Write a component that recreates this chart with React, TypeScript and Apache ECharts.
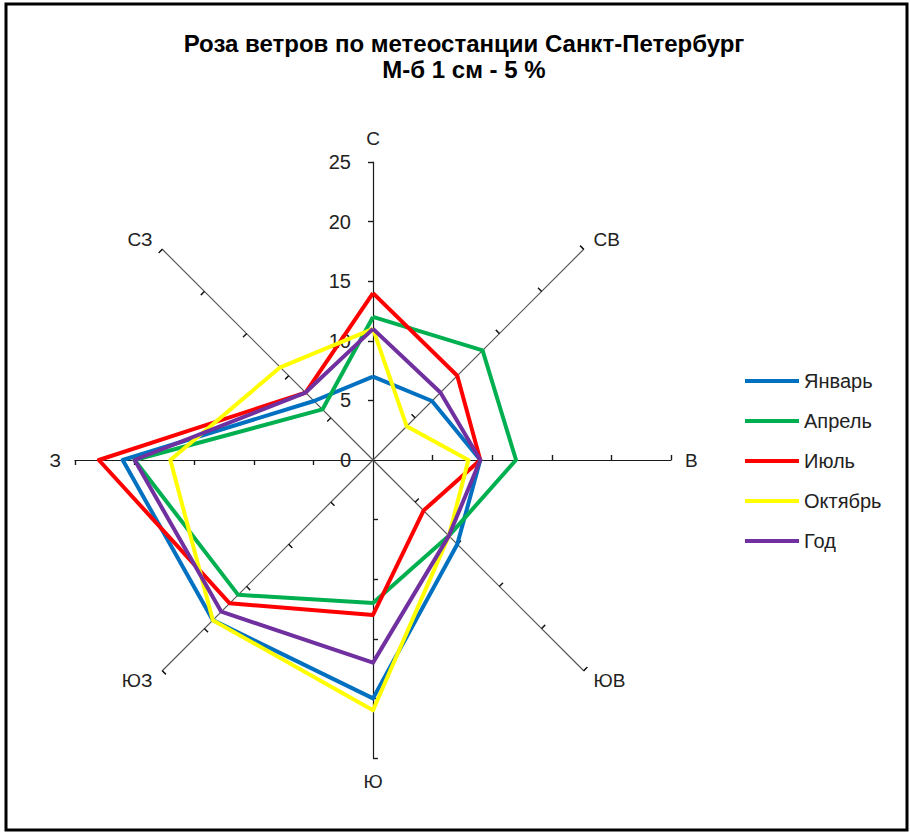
import React, { useEffect, useRef } from "react";
import * as echarts from "echarts";

// Compass directions (clockwise from north)
const directions = ["С", "СВ", "В", "ЮВ", "Ю", "ЮЗ", "З", "СЗ"];
// ECharts radar lays indicators counter-clockwise; this is the drawing order
const drawOrder = [0, 7, 6, 5, 4, 3, 2, 1];

const seriesNames = ["Январь", "Апрель", "Июль", "Октябрь", "Год"];
const january = [7, 7, 9, 10, 20, 19, 21, 7];
const april = [12, 13, 12, 9, 12, 16, 20, 6];
const july = [14, 10, 9, 6, 13, 17, 23, 8];
const october = [11, 4, 8, 9, 21, 19, 17, 11];
const year = [11, 8, 9, 9, 17, 18, 20, 8];
const seriesValues = [january, april, july, october, year];
const seriesColors = ["#0070C0", "#00B050", "#FF0000", "#FFFF00", "#7030A0"];

const axisMax = 25;
const tickValues = [5, 10, 15, 20, 25];

const titleLine1 = "Роза ветров по метеостанции Санкт-Петербург";
const titleLine2 = "М-б 1 см - 5 %";

const FONT = "'Liberation Sans', Arial, sans-serif";

export default function App() {
  const ref = useRef<HTMLDivElement>(null);

  useEffect(() => {
    if (!ref.current) return;
    const chart = echarts.init(ref.current, null, { renderer: "svg" });

    const isMain = (d: string) => d.length === 1;

    const indicators = drawOrder.map((i) => ({
      name: directions[i],
      min: 0,
      max: axisMax,
      axisLine: {
        lineStyle: { color: isMain(directions[i]) ? "#1a1a1a" : "#555555", width: 1.2 },
      },
      axisLabel: { show: i === 0 },
    }));

    const indicatorsInner = drawOrder.map((i) => ({
      name: directions[i],
      min: 0,
      max: axisMax,
      axisLabel: { show: false },
    }));

    const center = [373, 460];
    const radius = 298;

    const option: any = {
      animation: false,
      backgroundColor: "#ffffff",
      title: {
        text: titleLine1 + "\n" + titleLine2,
        left: 459,
        top: 25,
        textAlign: "center",
        textStyle: {
          fontFamily: FONT,
          fontWeight: "bold",
          fontSize: 24,
          lineHeight: 26,
          color: "#000",
        },
      },
      legend: {
        orient: "vertical",
        left: 740,
        top: 366,
        itemWidth: 54,
        itemHeight: 4,
        itemGap: 20,
        icon: "rect",
        data: seriesNames,
        textStyle: { fontFamily: FONT, fontSize: 20, color: "#222" },
        selectedMode: false,
      },
      radar: [
        {
          center,
          radius,
          startAngle: 90,
          shape: "polygon",
          splitNumber: 5,
          indicator: indicators,
          axisName: {
            color: "#222",
            fontFamily: FONT,
            fontSize: 19,
          },
          nameGap: 14,
          axisLine: { show: true, lineStyle: { color: "#1a1a1a", width: 1.2 } },
          axisTick: {
            show: true,
            length: 5,
            inside: false,
            customValues: tickValues,
            lineStyle: { color: "#1a1a1a", width: 1.2 },
          },
          axisLabel: {
            show: false,
            margin: 22,
            fontFamily: FONT,
            fontSize: 20,
            color: "#222",
          },
          splitLine: { show: false },
          splitArea: { show: false },
        },
        {
          center,
          radius,
          startAngle: 90,
          shape: "polygon",
          splitNumber: 5,
          indicator: indicatorsInner,
          axisName: { show: false },
          axisLine: { show: false },
          axisTick: {
            show: true,
            length: 5,
            inside: true,
            customValues: tickValues,
            lineStyle: { color: "#1a1a1a", width: 1.2 },
          },
          axisLabel: { show: false },
          splitLine: { show: false },
          splitArea: { show: false },
        },
      ],
      series: [
        {
          type: "radar",
          radarIndex: 0,
          symbol: "none",
          data: seriesNames.map((name, k) => ({
            name,
            value: drawOrder.map((i) => seriesValues[k][i]),
            lineStyle: { color: seriesColors[k], width: 4 },
            itemStyle: { color: seriesColors[k] },
            areaStyle: { opacity: 0 },
          })),
        },
      ],
      graphic: [
        {
          type: "rect",
          shape: { x: 6, y: 4, width: 901, height: 826 },
          style: { fill: "none", stroke: "#000", lineWidth: 3 },
          silent: true,
        },
      ],
    };

    chart.setOption(option);
    return () => chart.dispose();
  }, []);

  return (
    <div
      ref={ref}
      style={{ position: "absolute", left: 0, top: 0, width: 910, height: 834 }}
    />
  );
}
